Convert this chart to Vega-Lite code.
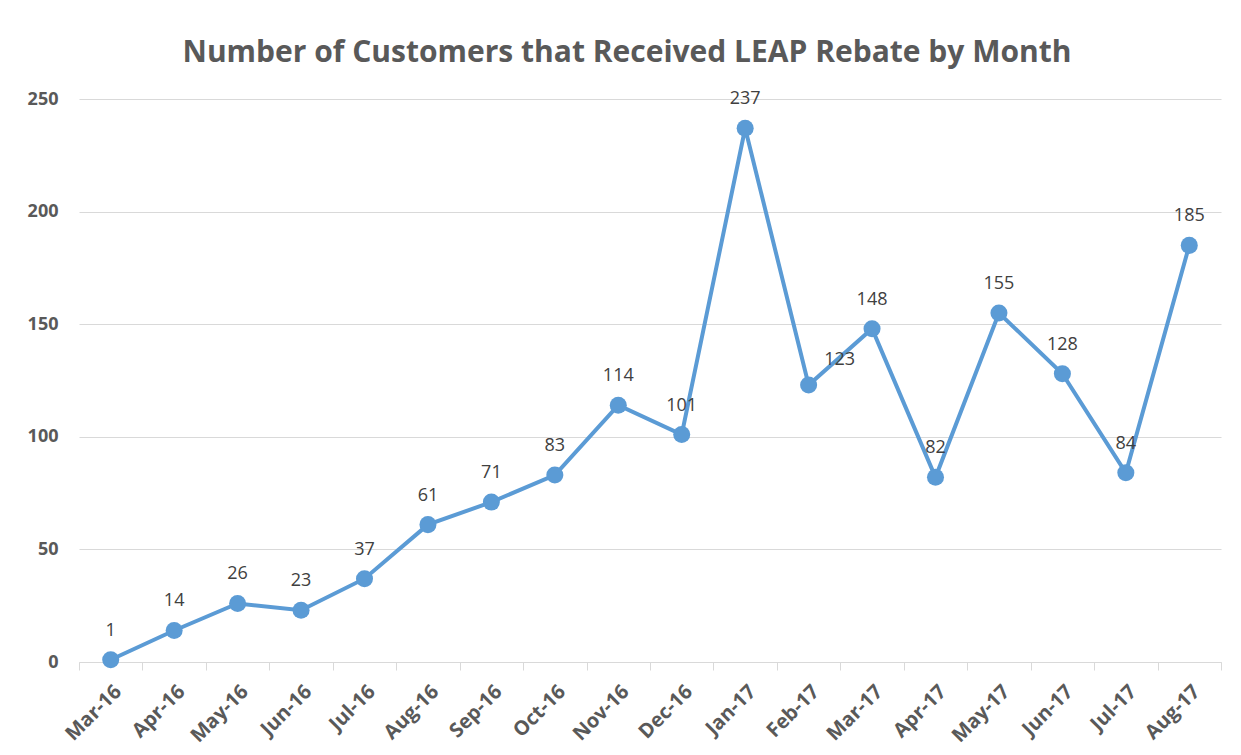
{
  "$schema": "https://vega.github.io/schema/vega-lite/v6.json",
  "width": 1142,
  "height": 563,
  "autosize": {"type": "none"},
  "padding": {"left": 79, "top": 99, "right": 20, "bottom": 93},
  "background": "white",
  "title": {
    "text": "Number of Customers that Received LEAP Rebate by Month",
    "font": "Open Sans",
    "fontSize": 30,
    "fontWeight": "bold",
    "color": "#595959",
    "anchor": "middle",
    "dx": -23,
    "offset": 22
  },
  "data": {
    "values": [
      {"month": "Mar-16", "customers": 1},
      {"month": "Apr-16", "customers": 14},
      {"month": "May-16", "customers": 26},
      {"month": "Jun-16", "customers": 23},
      {"month": "Jul-16", "customers": 37},
      {"month": "Aug-16", "customers": 61},
      {"month": "Sep-16", "customers": 71},
      {"month": "Oct-16", "customers": 83},
      {"month": "Nov-16", "customers": 114},
      {"month": "Dec-16", "customers": 101},
      {"month": "Jan-17", "customers": 237},
      {"month": "Feb-17", "customers": 123},
      {"month": "Mar-17", "customers": 148},
      {"month": "Apr-17", "customers": 82},
      {"month": "May-17", "customers": 155},
      {"month": "Jun-17", "customers": 128},
      {"month": "Jul-17", "customers": 84},
      {"month": "Aug-17", "customers": 185}
    ]
  },
  "config": {
    "view": {"stroke": null},
    "axis": {
      "labelFont": "Open Sans",
      "labelFontWeight": "bold",
      "labelFontSize": 18,
      "labelColor": "#595959",
      "gridColor": "#d9d9d9",
      "domainColor": "#d9d9d9",
      "tickColor": "#d9d9d9"
    }
  },
  "encoding": {
    "x": {
      "field": "month",
      "type": "ordinal",
      "sort": null,
      "scale": {"paddingInner": 0, "paddingOuter": 0},
      "axis": {
        "title": null,
        "labelAngle": -45,
        "labelFontSize": 20,
        "tickBand": "extent",
        "tickSize": 8,
        "grid": false,
        "domainWidth": 1,
        "labelPadding": 11
      }
    },
    "y": {
      "field": "customers",
      "type": "quantitative",
      "scale": {"domain": [0, 250]},
      "axis": {
        "title": null,
        "values": [0, 50, 100, 150, 200, 250],
        "domain": false,
        "ticks": false,
        "labelPadding": 21,
        "gridWidth": 1
      }
    }
  },
  "layer": [
    {
      "mark": {"type": "line", "color": "#5B9BD5", "strokeWidth": 4}
    },
    {
      "mark": {"type": "point", "filled": true, "shape": "circle", "size": 290, "color": "#5B9BD5", "opacity": 1}
    },
    {
      "transform": [{"filter": "datum.month !== 'Feb-17'"}],
      "mark": {"type": "text", "font": "Open Sans", "fontSize": 18, "color": "#404040", "baseline": "alphabetic", "dy": -24},
      "encoding": {"text": {"field": "customers", "type": "quantitative"}}
    },
    {
      "transform": [{"filter": "datum.month === 'Feb-17'"}],
      "mark": {"type": "text", "font": "Open Sans", "fontSize": 18, "color": "#404040", "baseline": "alphabetic", "dx": 31, "dy": -20},
      "encoding": {"text": {"field": "customers", "type": "quantitative"}}
    }
  ]
}
